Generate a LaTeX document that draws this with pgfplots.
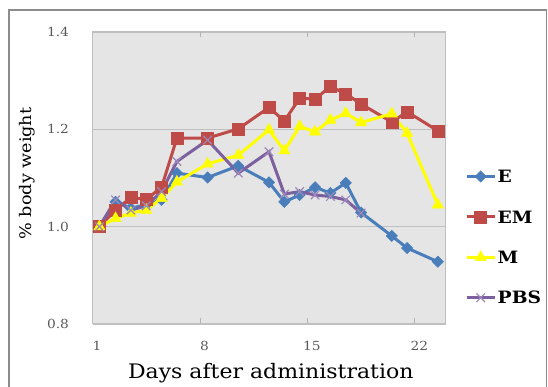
\documentclass[border=0pt]{standalone}
\usepackage{fontspec}
\setmainfont{DejaVu Serif}[FakeStretch=1.1]
\usepackage{pgfplots}
\pgfplotsset{compat=1.18}
\definecolor{cE}{HTML}{4A7EBB}
\definecolor{cEM}{HTML}{BE4B48}
\definecolor{cM}{HTML}{FFFF00}
\definecolor{cPBS}{HTML}{7D60A0}
\begin{document}
\begin{tikzpicture}[x=1pt,y=1pt]
\useasboundingbox (0,0) rectangle (548,387);
\draw[black!45, line width=1.2pt] (9,-10) rectangle (546.5,377);
\begin{axis}[
  at={(92.5pt,63pt)}, anchor=south west,
  scale only axis, width=353pt, height=292pt,
  xmin=1, xmax=24, ymin=0.8, ymax=1.4,
  xtick={1,8,15,22}, ytick={0.8,1.0,1.2,1.4},
  tick align=inside, major tick length=5.5pt,
  ytick style={draw=none},
  xtick style={black!30, line width=0.8pt},
  axis background/.style={fill=black!10},
  axis line style={black!25, line width=1pt},
  ymajorgrids, major grid style={black!25, line width=0.8pt},
  /pgf/number format/assume math mode=true,
  yticklabel style={/pgf/number format/.cd, fixed, fixed zerofill, precision=1, /tikz/.cd,
    font=\fontsize{12.5}{14}\selectfont, text=black!65, xshift=-20pt},
  xticklabel style={font=\fontsize{12.5}{14}\selectfont, text=black!65, yshift=-13.5pt, xshift=4.5pt},
  xlabel={Days after administration},
  xlabel style={at={(axis description cs:0.505,-0.168)}, anchor=center, font=\fontsize{20}{24}\selectfont},
  ylabel={\% body weight},
  ylabel style={at={(axis description cs:-0.184,0.5155)}, anchor=center, font=\fontsize{16}{19}\selectfont},
  legend style={at={(axis description cs:1.0552,0.2976)}, anchor=west, draw=none, fill=none,
    inner sep=0pt, row sep=25pt, font=\bfseries\fontsize{17}{20}\selectfont,
    nodes={inner sep=1.5pt, text height=12.4pt, text depth=0pt}},
  legend cell align=left,
  legend image code/.code={\draw[mark repeat=2,mark phase=2] plot coordinates {(0pt,0pt) (14pt,0pt) (28pt,0pt)};},
]
\addplot[cE, line width=3pt, mark=square*, mark size=4pt, mark options={rotate=45, solid, line width=0.5pt}] coordinates {
(1.45,1.0) (2.5,1.051) (3.5,1.038) (4.5,1.045) (5.5,1.055) (6.5,1.110) (8.5,1.101) (10.5,1.125)
(12.5,1.091) (13.5,1.051) (14.5,1.065) (15.5,1.081) (16.5,1.069) (17.5,1.090) (18.5,1.029)
(20.5,0.981) (21.5,0.956) (23.5,0.928)};
\addlegendentry{E}
\addplot[cEM, line width=3pt, mark=square*, mark size=6pt, mark options={solid, line width=0.5pt}] coordinates {
(1.45,1.0) (2.5,1.034) (3.5,1.060) (4.5,1.056) (5.5,1.081) (6.5,1.182) (8.5,1.182) (10.5,1.201)
(12.5,1.245) (13.5,1.217) (14.5,1.264) (15.5,1.262) (16.5,1.288) (17.5,1.273) (18.5,1.252)
(20.5,1.215) (21.5,1.236) (23.5,1.197)};
\addlegendentry{EM}
\addplot[cM, line width=3pt, mark=triangle*, mark size=6.5pt, mark options={solid, line width=0.5pt}] coordinates {
(1.45,1.0) (2.5,1.017) (3.5,1.028) (4.5,1.034) (5.5,1.058) (6.5,1.092) (8.5,1.129) (10.5,1.147)
(12.5,1.199) (13.5,1.156) (14.5,1.206) (15.5,1.195) (16.5,1.219) (17.5,1.233) (18.5,1.214)
(20.5,1.232) (21.5,1.192) (23.5,1.045)};
\addlegendentry{M}
\addplot[cPBS, line width=3pt, mark=x, mark size=6pt, mark options={solid, line width=1.2pt, draw=cPBS!75!white}] coordinates {
(1.45,1.0) (2.5,1.055) (3.5,1.034) (4.5,1.043) (5.5,1.072) (6.5,1.134) (8.5,1.178) (10.5,1.110)
(12.5,1.154) (13.5,1.067) (14.5,1.072) (15.5,1.065) (16.5,1.062) (17.5,1.055) (18.5,1.028)};
\addlegendentry{PBS}
\end{axis}
\end{tikzpicture}
\end{document}
